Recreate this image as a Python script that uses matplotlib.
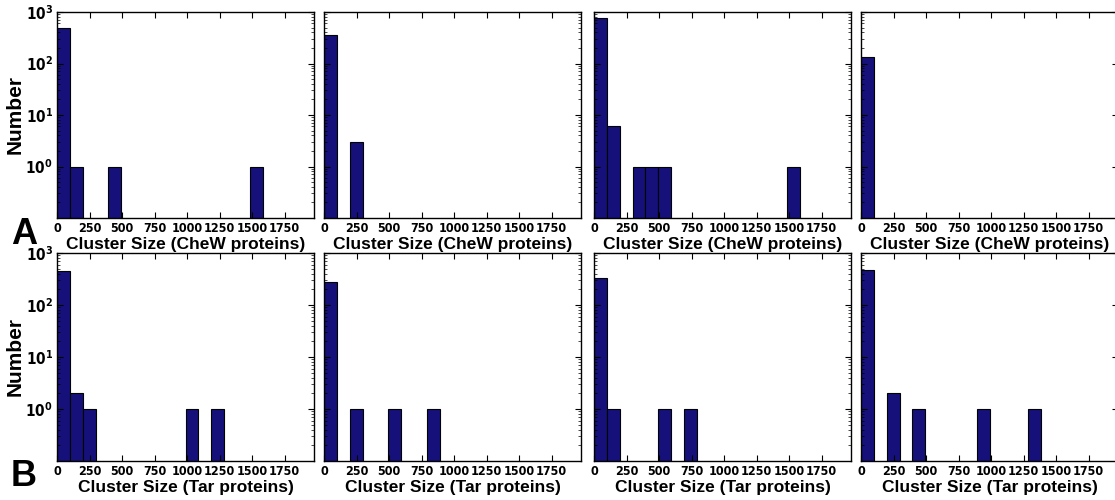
import numpy as np
import matplotlib
matplotlib.use('Agg')
import matplotlib.pyplot as plt
from matplotlib import font_manager
from matplotlib.font_manager import FontProperties
from matplotlib.ticker import FixedLocator, LogLocator, NullFormatter

plt.rcParams['font.family'] = ['Liberation Sans', 'DejaVu Sans']
plt.rcParams['font.weight'] = 'bold'


def narrow_bold_font():
    # look for a condensed bold sans for the tick numbers
    wanted = ['liberation sans narrow', 'arial narrow', 'dejavu sans condensed',
              'roboto condensed', 'noto sans', 'open sans', 'dejavu sans']
    cands = []
    for f in font_manager.fontManager.ttflist:
        name = f.name.lower()
        fname = f.fname.lower()
        w = f.weight if isinstance(f.weight, int) else {'bold': 700}.get(str(f.weight), 400)
        narrow = ('narrow' in name or 'condensed' in name or 'condensed' in fname
                  or 'narrow' in fname or str(f.stretch) in ('condensed', 'semi-condensed'))
        if not narrow or w < 600 or f.style != 'normal':
            continue
        if 'extra' in fname or 'ultra' in fname:
            continue
        rank = next((i for i, n in enumerate(wanted) if n in name or n.replace(' ', '') in fname),
                    len(wanted))
        cands.append((rank, f))
    if cands:
        cands.sort(key=lambda t: t[0])
        f = cands[0][1]
        stretch = f.stretch if isinstance(f.stretch, str) else 'condensed'
        return (FontProperties(fname=f.fname),
                f'{f.name}:weight=bold:stretch={stretch}')
    return (FontProperties(family='Liberation Sans', weight='bold'),
            'Liberation Sans:weight=bold')


tick_fp, tick_pattern = narrow_bold_font()
plt.rcParams['mathtext.fontset'] = 'custom'
plt.rcParams['mathtext.bf'] = tick_pattern
plt.rcParams['mathtext.rm'] = tick_pattern

# histogram bins: 20 bins over 0..1975 cluster size
n_bins = 20
x_max = 1975.0
bin_edges = np.linspace(0, x_max, n_bins + 1)

# non-empty bins (index) and counts for each panel
chew_bins = [
    [0, 1, 4, 15],
    [0, 2],
    [0, 1, 3, 4, 5, 15],
    [0],
]
chew_counts = [
    [490, 1, 1, 1],
    [350, 3],
    [760, 6, 1, 1, 1, 1],
    [133],
]
tar_bins = [
    [0, 1, 2, 10, 12],
    [0, 2, 5, 8],
    [0, 1, 5, 7],
    [0, 2, 4, 9, 13],
]
tar_counts = [
    [455, 2, 1, 1, 1],
    [282, 1, 1, 1],
    [326, 1, 1, 1],
    [468, 2, 1, 1, 1],
]

xticks = [0, 250, 500, 750, 1000, 1250, 1500, 1750]
yticks = [1, 10, 100, 1000]
ytick_labels = [r'$\mathbf{10^{0}}$', r'$\mathbf{10^{1}}$',
                r'$\mathbf{10^{2}}$', r'$\mathbf{10^{3}}$']
xlabels = ['Cluster Size (CheW proteins)', 'Cluster Size (Tar proteins)']

W, H = 1115, 500
fig = plt.figure(figsize=(W / 100, H / 100), dpi=100)

col_left = [57, 324, 594, 861]
col_w = 257
rows = [(12, 218), (253, 461)]
bar_color = '#16107a'
xtick_size = 9


def draw_panel(ax, bins, counts, first_col, xlabel):
    lefts = bin_edges[np.array(bins)]
    widths = np.diff(bin_edges)[np.array(bins)]
    base = 0.1
    ax.bar(lefts, np.array(counts) - base, width=widths, bottom=base,
           align='edge', color=bar_color, edgecolor='black', linewidth=0.8)
    ax.set_yscale('log')
    ax.set_ylim(0.1, 1000)
    ax.set_xlim(0, x_max)
    ax.xaxis.set_major_locator(FixedLocator(xticks))
    ax.set_xticklabels([str(t) for t in xticks])
    for lab in ax.get_xticklabels():
        lab.set_fontproperties(tick_fp)
        lab.set_fontsize(xtick_size)
    ax.yaxis.set_major_locator(FixedLocator(yticks))
    ax.yaxis.set_minor_locator(LogLocator(base=10, subs=np.arange(2, 10)))
    ax.yaxis.set_minor_formatter(NullFormatter())
    if first_col:
        ax.set_yticklabels(ytick_labels, fontsize=11)
        ax.set_ylabel('Number', fontsize=15, fontweight='bold')
        ax.yaxis.set_label_coords(-0.125, 0.5)
    else:
        ax.set_yticklabels([])
    ax.tick_params(which='both', direction='in', top=True, right=True)
    ax.tick_params(which='major', length=4, width=0.8, pad=3)
    ax.tick_params(which='minor', length=2, width=0.5)
    ax.set_xlabel(xlabel, fontsize=12.5, fontweight='bold', labelpad=1)
    for s in ax.spines.values():
        s.set_linewidth(1.0)


for r, (top, bot) in enumerate(rows):
    data_bins = chew_bins if r == 0 else tar_bins
    data_counts = chew_counts if r == 0 else tar_counts
    for c in range(4):
        ax = fig.add_axes([col_left[c] / W, 1 - bot / H, col_w / W, (bot - top) / H])
        draw_panel(ax, data_bins[c], data_counts[c], c == 0, xlabels[r])

fig.text(11 / W, 1 - 244 / H, 'A', fontsize=26, fontweight='bold')
fig.text(11 / W, 1 - 486 / H, 'B', fontsize=26, fontweight='bold')

fig.savefig('out.png', dpi=100)
